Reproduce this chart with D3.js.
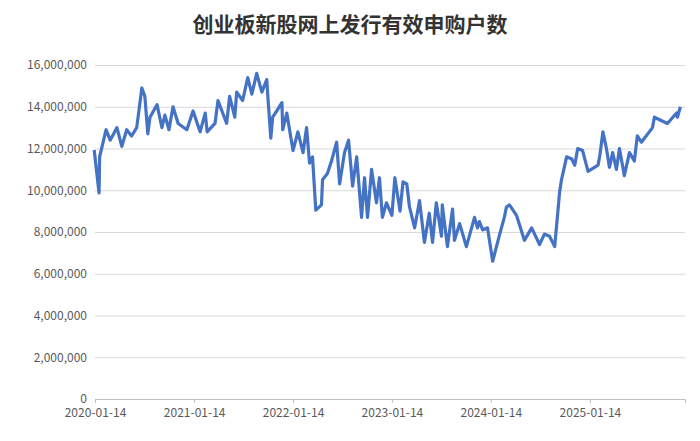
<!DOCTYPE html>
<html><head><meta charset="utf-8">
<script src="https://cdn.jsdelivr.net/npm/d3@7"></script>
<style>body{margin:0;background:#fff}</style></head>
<body><svg id="c" width="700" height="441"></svg>
<script>
const title = "创业板新股网上发行有效申购户数";
const dates = ["2020-01-11","2020-01-29","2020-01-31","2020-02-24","2020-03-10","2020-04-04","2020-04-22","2020-05-10","2020-05-28","2020-06-16","2020-07-05","2020-07-16","2020-07-27","2020-08-04","2020-08-30","2020-09-17","2020-09-28","2020-10-13","2020-10-28","2020-11-16","2020-12-18","2021-01-10","2021-02-05","2021-02-24","2021-03-03","2021-04-01","2021-04-12","2021-05-14","2021-05-25","2021-06-13","2021-06-20","2021-07-12","2021-07-31","2021-08-15","2021-09-02","2021-09-21","2021-10-09","2021-10-13","2021-10-24","2021-10-31","2021-11-15","2021-12-04","2021-12-07","2021-12-22","2022-01-14","2022-02-01","2022-02-20","2022-03-05","2022-03-16","2022-03-27","2022-04-08","2022-04-29","2022-05-03","2022-05-21","2022-06-05","2022-06-24","2022-07-05","2022-07-23","2022-08-07","2022-08-22","2022-09-06","2022-09-24","2022-10-05","2022-10-16","2022-10-31","2022-11-18","2022-11-29","2022-12-10","2022-12-25","2023-01-14","2023-01-25","2023-02-13","2023-02-24","2023-03-10","2023-03-20","2023-04-08","2023-04-26","2023-05-14","2023-06-01","2023-06-13","2023-06-27","2023-07-16","2023-07-19","2023-08-07","2023-08-26","2023-09-02","2023-09-21","2023-10-16","2023-11-15","2023-11-26","2023-12-03","2023-12-15","2024-01-02","2024-01-21","2024-02-16","2024-03-04","2024-03-12","2024-03-23","2024-04-18","2024-05-17","2024-06-13","2024-07-12","2024-07-30","2024-08-18","2024-09-06","2024-09-24","2024-10-01","2024-10-20","2024-11-08","2024-11-19","2024-11-30","2024-12-18","2025-01-07","2025-02-13","2025-02-20","2025-03-03","2025-03-16","2025-03-27","2025-04-08","2025-04-22","2025-05-03","2025-05-21","2025-06-09","2025-06-27","2025-07-08","2025-07-23","2025-09-02","2025-09-09","2025-10-27","2025-11-30","2025-12-03","2025-12-14"];
const values = [11.93,9.87,11.6,12.9,12.4,13.0,12.1,12.9,12.6,13.0,14.9,14.5,12.7,13.5,14.1,13.0,13.6,12.9,14.0,13.2,12.9,13.8,12.8,13.7,12.8,13.2,14.3,13.2,14.5,13.5,14.7,14.3,15.4,14.6,15.6,14.7,15.3,14.5,12.5,13.5,13.8,14.2,12.9,13.7,11.9,12.8,11.8,13.0,11.3,11.6,9.05,9.3,10.5,10.8,11.4,12.3,10.3,11.8,12.4,10.2,11.6,8.7,10.6,8.7,11.0,9.4,10.6,8.7,9.4,8.8,10.6,9.0,10.4,10.3,9.2,8.2,9.5,7.5,8.9,7.5,9.4,7.8,9.3,7.3,9.1,7.6,8.4,7.3,8.7,8.2,8.5,8.1,8.2,6.6,7.9,8.7,9.2,9.3,8.8,7.6,8.2,7.4,7.9,7.8,7.3,9.9,10.5,11.6,11.5,11.2,12.0,11.9,10.9,11.2,11.7,12.8,12.0,11.1,11.8,11.0,12.0,10.7,11.8,11.4,12.6,12.3,13.0,13.5,13.2,13.7,13.5,14.0].map(v=>v*1e6);
const xTicks = ["2020-01-14","2021-01-14","2022-01-14","2023-01-14","2024-01-14","2025-01-14"];
const yTicks = [0,2e6,4e6,6e6,8e6,10e6,12e6,14e6,16e6];

const p = d3.timeParse("%Y-%m-%d");
const svg = d3.select("#c");
const x = d3.scaleTime().domain([p("2020-01-14"), p("2025-12-31")]).range([95, 685]);
const y = d3.scaleLinear().domain([0,16e6]).range([399,65]);
const fam = "'Noto Sans CJK SC','Noto Sans',sans-serif";

svg.append("text").attr("x",350).attr("y",32).attr("text-anchor","middle")
  .attr("font-family",fam).attr("font-size",21).attr("font-weight","bold").attr("fill","#333").text(title);

const ya = svg.append("g").attr("transform","translate(95,0)")
  .call(d3.axisLeft(y).tickValues(yTicks).tickSize(-590).tickFormat(d3.format(",")));
ya.select(".domain").remove();
ya.selectAll("line").attr("stroke","#d9d9d9");
ya.selectAll("text").attr("x",-8).attr("font-family",fam).attr("font-size",12).attr("fill","#595959");

const xa = svg.append("g").attr("transform","translate(0,399)")
  .call(d3.axisBottom(x).tickValues(xTicks.map(p)).tickSize(4).tickFormat(d3.timeFormat("%Y-%m-%d")));
xa.select(".domain").attr("stroke","#bfbfbf");
xa.selectAll("line").attr("stroke","#bfbfbf");
xa.selectAll("text").attr("y",9).attr("font-family",fam).attr("font-size",12).attr("fill","#595959");

const data = dates.map((d,i)=>({d:p(d),v:values[i]}));
svg.append("path").datum(data).attr("fill","none").attr("stroke","#4472C4")
  .attr("stroke-width",3.2).attr("stroke-linejoin","round")
  .attr("d", d3.line().x(d=>x(d.d)).y(d=>y(d.v)));
</script></body></html>
